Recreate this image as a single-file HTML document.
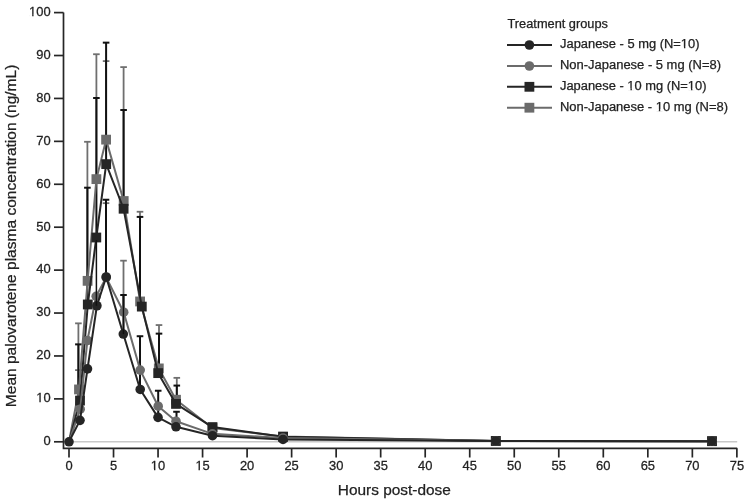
<!DOCTYPE html>
<html><head><meta charset="utf-8"><title>Mean palovarotene plasma concentration</title>
<style>
html,body{margin:0;padding:0;background:#fff;}
svg{display:block;}
text{font-family:"Liberation Sans",Arial,sans-serif;fill:#222222;stroke:#222222;stroke-width:0.25px;}
.tk{font-size:12.3px;}
.lg{font-size:12.3px;}
.ttl{font-size:14.8px;}
</style></head><body>
<svg width="749" height="504" viewBox="0 0 749 504">
<rect width="749" height="504" fill="#fff"/>
<line x1="63.50" y1="441.80" x2="737.20" y2="441.80" stroke="#c8c8c8" stroke-width="1.6"/>
<line x1="78.40" y1="409.18" x2="78.40" y2="370.12" stroke="#6f6f6f" stroke-width="1.8"/>
<line x1="75.10" y1="370.12" x2="81.70" y2="370.12" stroke="#6f6f6f" stroke-width="1.8"/>
<line x1="106.00" y1="277.42" x2="106.00" y2="203.16" stroke="#6f6f6f" stroke-width="1.8"/>
<line x1="102.70" y1="203.16" x2="109.30" y2="203.16" stroke="#6f6f6f" stroke-width="1.8"/>
<line x1="123.50" y1="312.18" x2="123.50" y2="260.68" stroke="#6f6f6f" stroke-width="1.8"/>
<line x1="120.20" y1="260.68" x2="126.80" y2="260.68" stroke="#6f6f6f" stroke-width="1.8"/>
<line x1="106.00" y1="276.99" x2="106.00" y2="199.73" stroke="#111111" stroke-width="2"/>
<line x1="102.70" y1="199.73" x2="109.30" y2="199.73" stroke="#111111" stroke-width="2"/>
<line x1="123.50" y1="334.07" x2="123.50" y2="295.01" stroke="#111111" stroke-width="2"/>
<line x1="120.20" y1="295.01" x2="126.80" y2="295.01" stroke="#111111" stroke-width="2"/>
<line x1="140.00" y1="389.44" x2="140.00" y2="336.22" stroke="#111111" stroke-width="2"/>
<line x1="136.70" y1="336.22" x2="143.30" y2="336.22" stroke="#111111" stroke-width="2"/>
<line x1="158.20" y1="417.34" x2="158.20" y2="390.73" stroke="#111111" stroke-width="2"/>
<line x1="154.90" y1="390.73" x2="161.50" y2="390.73" stroke="#111111" stroke-width="2"/>
<line x1="176.50" y1="427.64" x2="176.50" y2="411.76" stroke="#111111" stroke-width="2"/>
<line x1="173.20" y1="411.76" x2="179.80" y2="411.76" stroke="#111111" stroke-width="2"/>
<line x1="78.40" y1="389.44" x2="78.40" y2="323.34" stroke="#6f6f6f" stroke-width="1.8"/>
<line x1="75.10" y1="323.34" x2="81.70" y2="323.34" stroke="#6f6f6f" stroke-width="1.8"/>
<line x1="87.40" y1="280.85" x2="87.40" y2="141.79" stroke="#6f6f6f" stroke-width="1.8"/>
<line x1="84.10" y1="141.79" x2="90.70" y2="141.79" stroke="#6f6f6f" stroke-width="1.8"/>
<line x1="96.40" y1="179.13" x2="96.40" y2="54.23" stroke="#6f6f6f" stroke-width="1.8"/>
<line x1="93.10" y1="54.23" x2="99.70" y2="54.23" stroke="#6f6f6f" stroke-width="1.8"/>
<line x1="106.10" y1="139.64" x2="106.10" y2="61.10" stroke="#6f6f6f" stroke-width="1.8"/>
<line x1="102.80" y1="61.10" x2="109.40" y2="61.10" stroke="#6f6f6f" stroke-width="1.8"/>
<line x1="123.60" y1="200.16" x2="123.60" y2="67.11" stroke="#6f6f6f" stroke-width="1.8"/>
<line x1="120.30" y1="67.11" x2="126.90" y2="67.11" stroke="#6f6f6f" stroke-width="1.8"/>
<line x1="140.00" y1="301.45" x2="140.00" y2="211.75" stroke="#6f6f6f" stroke-width="1.8"/>
<line x1="136.70" y1="211.75" x2="143.30" y2="211.75" stroke="#6f6f6f" stroke-width="1.8"/>
<line x1="159.00" y1="368.41" x2="159.00" y2="325.06" stroke="#6f6f6f" stroke-width="1.8"/>
<line x1="155.70" y1="325.06" x2="162.30" y2="325.06" stroke="#6f6f6f" stroke-width="1.8"/>
<line x1="176.80" y1="398.02" x2="176.80" y2="377.85" stroke="#6f6f6f" stroke-width="1.8"/>
<line x1="173.50" y1="377.85" x2="180.10" y2="377.85" stroke="#6f6f6f" stroke-width="1.8"/>
<line x1="78.40" y1="400.60" x2="78.40" y2="344.37" stroke="#111111" stroke-width="2"/>
<line x1="75.10" y1="344.37" x2="81.70" y2="344.37" stroke="#111111" stroke-width="2"/>
<line x1="87.40" y1="304.46" x2="87.40" y2="187.71" stroke="#111111" stroke-width="2"/>
<line x1="84.10" y1="187.71" x2="90.70" y2="187.71" stroke="#111111" stroke-width="2"/>
<line x1="96.40" y1="237.50" x2="96.40" y2="98.01" stroke="#111111" stroke-width="2"/>
<line x1="93.10" y1="98.01" x2="99.70" y2="98.01" stroke="#111111" stroke-width="2"/>
<line x1="106.10" y1="164.11" x2="106.10" y2="42.64" stroke="#111111" stroke-width="2"/>
<line x1="102.80" y1="42.64" x2="109.40" y2="42.64" stroke="#111111" stroke-width="2"/>
<line x1="123.60" y1="208.74" x2="123.60" y2="110.03" stroke="#111111" stroke-width="2"/>
<line x1="120.30" y1="110.03" x2="126.90" y2="110.03" stroke="#111111" stroke-width="2"/>
<line x1="140.00" y1="306.60" x2="140.00" y2="216.90" stroke="#111111" stroke-width="2"/>
<line x1="136.70" y1="216.90" x2="143.30" y2="216.90" stroke="#111111" stroke-width="2"/>
<line x1="159.00" y1="372.27" x2="159.00" y2="333.64" stroke="#111111" stroke-width="2"/>
<line x1="155.70" y1="333.64" x2="162.30" y2="333.64" stroke="#111111" stroke-width="2"/>
<line x1="176.80" y1="402.74" x2="176.80" y2="385.57" stroke="#111111" stroke-width="2"/>
<line x1="173.50" y1="385.57" x2="180.10" y2="385.57" stroke="#111111" stroke-width="2"/>
<polyline points="69.00,441.80 79.00,389.44 87.60,280.85 96.40,179.13 106.10,139.64 123.70,201.02 140.10,301.45 158.80,368.41 176.00,399.74 212.40,428.07 283.00,436.44 495.80,440.94 712.00,441.16" fill="none" stroke="#6b6b6b" stroke-width="2" stroke-linejoin="round"/>
<rect x="74.10" y="384.54" width="9.8" height="9.8" fill="#6b6b6b"/>
<rect x="82.70" y="275.95" width="9.8" height="9.8" fill="#6b6b6b"/>
<rect x="91.50" y="174.23" width="9.8" height="9.8" fill="#6b6b6b"/>
<rect x="101.20" y="134.74" width="9.8" height="9.8" fill="#6b6b6b"/>
<rect x="118.80" y="196.12" width="9.8" height="9.8" fill="#6b6b6b"/>
<rect x="135.20" y="296.55" width="9.8" height="9.8" fill="#6b6b6b"/>
<rect x="153.90" y="363.51" width="9.8" height="9.8" fill="#6b6b6b"/>
<rect x="171.10" y="394.84" width="9.8" height="9.8" fill="#6b6b6b"/>
<rect x="207.50" y="423.17" width="9.8" height="9.8" fill="#6b6b6b"/>
<rect x="278.10" y="431.54" width="9.8" height="9.8" fill="#6b6b6b"/>
<rect x="490.90" y="436.04" width="9.8" height="9.8" fill="#6b6b6b"/>
<rect x="707.10" y="436.26" width="9.8" height="9.8" fill="#6b6b6b"/>
<polyline points="69.00,441.80 80.00,400.60 87.80,304.46 96.30,237.50 106.20,164.11 123.60,208.74 141.80,306.60 158.20,373.13 176.00,403.90 212.50,427.08 283.10,436.86 495.80,440.94 712.00,441.16" fill="none" stroke="#252525" stroke-width="2" stroke-linejoin="round"/>
<rect x="75.10" y="395.70" width="9.8" height="9.8" fill="#252525"/>
<rect x="82.90" y="299.56" width="9.8" height="9.8" fill="#252525"/>
<rect x="91.40" y="232.60" width="9.8" height="9.8" fill="#252525"/>
<rect x="101.30" y="159.21" width="9.8" height="9.8" fill="#252525"/>
<rect x="118.70" y="203.84" width="9.8" height="9.8" fill="#252525"/>
<rect x="136.90" y="301.70" width="9.8" height="9.8" fill="#252525"/>
<rect x="153.30" y="368.23" width="9.8" height="9.8" fill="#252525"/>
<rect x="171.10" y="399.00" width="9.8" height="9.8" fill="#252525"/>
<rect x="207.60" y="422.18" width="9.8" height="9.8" fill="#252525"/>
<rect x="278.20" y="431.96" width="9.8" height="9.8" fill="#252525"/>
<rect x="490.90" y="436.04" width="9.8" height="9.8" fill="#252525"/>
<rect x="707.10" y="436.26" width="9.8" height="9.8" fill="#252525"/>
<polyline points="69.00,441.80 80.20,409.18 87.40,340.51 96.20,296.30 106.20,277.42 123.70,312.18 140.20,370.12 158.20,406.18 176.00,421.20 212.40,433.86 283.00,437.94 495.80,440.94 712.00,441.16" fill="none" stroke="#6b6b6b" stroke-width="2" stroke-linejoin="round"/>
<circle cx="80.20" cy="409.18" r="4.8" fill="#6b6b6b"/>
<circle cx="87.40" cy="340.51" r="4.8" fill="#6b6b6b"/>
<circle cx="96.20" cy="296.30" r="4.8" fill="#6b6b6b"/>
<circle cx="106.20" cy="277.42" r="4.8" fill="#6b6b6b"/>
<circle cx="123.70" cy="312.18" r="4.8" fill="#6b6b6b"/>
<circle cx="140.20" cy="370.12" r="4.8" fill="#6b6b6b"/>
<circle cx="158.20" cy="406.18" r="4.8" fill="#6b6b6b"/>
<circle cx="176.00" cy="421.20" r="4.8" fill="#6b6b6b"/>
<circle cx="212.40" cy="433.86" r="4.8" fill="#6b6b6b"/>
<circle cx="283.00" cy="437.94" r="4.8" fill="#6b6b6b"/>
<circle cx="495.80" cy="440.94" r="4.8" fill="#6b6b6b"/>
<circle cx="712.00" cy="441.16" r="4.8" fill="#6b6b6b"/>
<polyline points="69.00,441.80 80.00,420.34 87.50,368.84 96.90,305.74 106.20,276.99 123.30,334.07 140.20,389.44 158.00,417.34 176.00,426.78 212.50,435.71 283.00,439.44 495.80,440.94 712.00,441.16" fill="none" stroke="#252525" stroke-width="2" stroke-linejoin="round"/>
<circle cx="69.00" cy="441.80" r="4.8" fill="#252525"/>
<circle cx="80.00" cy="420.34" r="4.8" fill="#252525"/>
<circle cx="87.50" cy="368.84" r="4.8" fill="#252525"/>
<circle cx="96.90" cy="305.74" r="4.8" fill="#252525"/>
<circle cx="106.20" cy="276.99" r="4.8" fill="#252525"/>
<circle cx="123.30" cy="334.07" r="4.8" fill="#252525"/>
<circle cx="140.20" cy="389.44" r="4.8" fill="#252525"/>
<circle cx="158.00" cy="417.34" r="4.8" fill="#252525"/>
<circle cx="176.00" cy="426.78" r="4.8" fill="#252525"/>
<circle cx="212.50" cy="435.71" r="4.8" fill="#252525"/>
<circle cx="283.00" cy="439.44" r="4.8" fill="#252525"/>
<circle cx="495.80" cy="440.94" r="4.8" fill="#252525"/>
<circle cx="712.00" cy="441.16" r="4.8" fill="#252525"/>
<line x1="96.40" y1="305.74" x2="96.40" y2="240.08" stroke="#111111" stroke-width="1.5"/>
<line x1="123.45" y1="334.07" x2="123.45" y2="295.01" stroke="#111111" stroke-width="1.4"/>
<path d="M63.5,12.6 V448.3 H737.2" fill="none" stroke="#262626" stroke-width="1.7"/>
<line x1="54" y1="441.80" x2="63.5" y2="441.80" stroke="#262626" stroke-width="1.7"/>
<text transform="translate(50.6,445.10) scale(1.05,1)" text-anchor="end" class="tk">0</text>
<line x1="54" y1="398.88" x2="63.5" y2="398.88" stroke="#262626" stroke-width="1.7"/>
<text transform="translate(50.6,402.18) scale(1.05,1)" text-anchor="end" class="tk">10</text>
<line x1="54" y1="355.96" x2="63.5" y2="355.96" stroke="#262626" stroke-width="1.7"/>
<text transform="translate(50.6,359.26) scale(1.05,1)" text-anchor="end" class="tk">20</text>
<line x1="54" y1="313.04" x2="63.5" y2="313.04" stroke="#262626" stroke-width="1.7"/>
<text transform="translate(50.6,316.34) scale(1.05,1)" text-anchor="end" class="tk">30</text>
<line x1="54" y1="270.12" x2="63.5" y2="270.12" stroke="#262626" stroke-width="1.7"/>
<text transform="translate(50.6,273.42) scale(1.05,1)" text-anchor="end" class="tk">40</text>
<line x1="54" y1="227.20" x2="63.5" y2="227.20" stroke="#262626" stroke-width="1.7"/>
<text transform="translate(50.6,230.50) scale(1.05,1)" text-anchor="end" class="tk">50</text>
<line x1="54" y1="184.28" x2="63.5" y2="184.28" stroke="#262626" stroke-width="1.7"/>
<text transform="translate(50.6,187.58) scale(1.05,1)" text-anchor="end" class="tk">60</text>
<line x1="54" y1="141.36" x2="63.5" y2="141.36" stroke="#262626" stroke-width="1.7"/>
<text transform="translate(50.6,144.66) scale(1.05,1)" text-anchor="end" class="tk">70</text>
<line x1="54" y1="98.44" x2="63.5" y2="98.44" stroke="#262626" stroke-width="1.7"/>
<text transform="translate(50.6,101.74) scale(1.05,1)" text-anchor="end" class="tk">80</text>
<line x1="54" y1="55.52" x2="63.5" y2="55.52" stroke="#262626" stroke-width="1.7"/>
<text transform="translate(50.6,58.82) scale(1.05,1)" text-anchor="end" class="tk">90</text>
<line x1="54" y1="12.60" x2="63.5" y2="12.60" stroke="#262626" stroke-width="1.7"/>
<text transform="translate(50.6,15.90) scale(1.05,1)" text-anchor="end" class="tk">100</text>
<line x1="69.00" y1="448.3" x2="69.00" y2="457.5" stroke="#262626" stroke-width="1.7"/>
<text transform="translate(69.00,470.2) scale(1.05,1)" text-anchor="middle" class="tk">0</text>
<line x1="113.53" y1="448.3" x2="113.53" y2="457.5" stroke="#262626" stroke-width="1.7"/>
<text transform="translate(113.53,470.2) scale(1.05,1)" text-anchor="middle" class="tk">5</text>
<line x1="158.05" y1="448.3" x2="158.05" y2="457.5" stroke="#262626" stroke-width="1.7"/>
<text transform="translate(158.05,470.2) scale(1.05,1)" text-anchor="middle" class="tk">10</text>
<line x1="202.57" y1="448.3" x2="202.57" y2="457.5" stroke="#262626" stroke-width="1.7"/>
<text transform="translate(202.57,470.2) scale(1.05,1)" text-anchor="middle" class="tk">15</text>
<line x1="247.10" y1="448.3" x2="247.10" y2="457.5" stroke="#262626" stroke-width="1.7"/>
<text transform="translate(247.10,470.2) scale(1.05,1)" text-anchor="middle" class="tk">20</text>
<line x1="291.62" y1="448.3" x2="291.62" y2="457.5" stroke="#262626" stroke-width="1.7"/>
<text transform="translate(291.62,470.2) scale(1.05,1)" text-anchor="middle" class="tk">25</text>
<line x1="336.15" y1="448.3" x2="336.15" y2="457.5" stroke="#262626" stroke-width="1.7"/>
<text transform="translate(336.15,470.2) scale(1.05,1)" text-anchor="middle" class="tk">30</text>
<line x1="380.67" y1="448.3" x2="380.67" y2="457.5" stroke="#262626" stroke-width="1.7"/>
<text transform="translate(380.67,470.2) scale(1.05,1)" text-anchor="middle" class="tk">35</text>
<line x1="425.20" y1="448.3" x2="425.20" y2="457.5" stroke="#262626" stroke-width="1.7"/>
<text transform="translate(425.20,470.2) scale(1.05,1)" text-anchor="middle" class="tk">40</text>
<line x1="469.72" y1="448.3" x2="469.72" y2="457.5" stroke="#262626" stroke-width="1.7"/>
<text transform="translate(469.72,470.2) scale(1.05,1)" text-anchor="middle" class="tk">45</text>
<line x1="514.25" y1="448.3" x2="514.25" y2="457.5" stroke="#262626" stroke-width="1.7"/>
<text transform="translate(514.25,470.2) scale(1.05,1)" text-anchor="middle" class="tk">50</text>
<line x1="558.77" y1="448.3" x2="558.77" y2="457.5" stroke="#262626" stroke-width="1.7"/>
<text transform="translate(558.77,470.2) scale(1.05,1)" text-anchor="middle" class="tk">55</text>
<line x1="603.30" y1="448.3" x2="603.30" y2="457.5" stroke="#262626" stroke-width="1.7"/>
<text transform="translate(603.30,470.2) scale(1.05,1)" text-anchor="middle" class="tk">60</text>
<line x1="647.82" y1="448.3" x2="647.82" y2="457.5" stroke="#262626" stroke-width="1.7"/>
<text transform="translate(647.82,470.2) scale(1.05,1)" text-anchor="middle" class="tk">65</text>
<line x1="692.35" y1="448.3" x2="692.35" y2="457.5" stroke="#262626" stroke-width="1.7"/>
<text transform="translate(692.35,470.2) scale(1.05,1)" text-anchor="middle" class="tk">70</text>
<line x1="736.88" y1="448.3" x2="736.88" y2="457.5" stroke="#262626" stroke-width="1.7"/>
<text transform="translate(736.88,470.2) scale(1.05,1)" text-anchor="middle" class="tk">75</text>
<text x="507.5" y="27.8" class="lg" textLength="100.5" lengthAdjust="spacingAndGlyphs">Treatment groups</text>
<line x1="507" y1="45.0" x2="552" y2="45.0" stroke="#252525" stroke-width="2"/>
<circle cx="529.4" cy="45.0" r="4.8" fill="#252525"/>
<text x="560" y="47.9" class="lg" textLength="139.5" lengthAdjust="spacingAndGlyphs">Japanese - 5 mg (N=10)</text>
<line x1="507" y1="66.0" x2="552" y2="66.0" stroke="#6b6b6b" stroke-width="2"/>
<circle cx="529.4" cy="66.0" r="4.8" fill="#6b6b6b"/>
<text x="560" y="68.9" class="lg" textLength="161.0" lengthAdjust="spacingAndGlyphs">Non-Japanese - 5 mg (N=8)</text>
<line x1="507" y1="86.8" x2="552" y2="86.8" stroke="#252525" stroke-width="2"/>
<rect x="524.5" y="81.9" width="9.8" height="9.8" fill="#252525"/>
<text x="560" y="89.7" class="lg" textLength="146.5" lengthAdjust="spacingAndGlyphs">Japanese - 10 mg (N=10)</text>
<line x1="507" y1="107.7" x2="552" y2="107.7" stroke="#6b6b6b" stroke-width="2"/>
<rect x="524.5" y="102.8" width="9.8" height="9.8" fill="#6b6b6b"/>
<text x="560" y="110.6" class="lg" textLength="168.0" lengthAdjust="spacingAndGlyphs">Non-Japanese - 10 mg (N=8)</text>
<text class="ttl" x="394.3" y="494.8" text-anchor="middle" textLength="113" lengthAdjust="spacingAndGlyphs">Hours post-dose</text>
<rect x="36.41" y="400.98" width="2.95" height="2.3" fill="#fff"/>
<rect x="40.74" y="400.98" width="2.74" height="2.3" fill="#fff"/>
<rect x="29.23" y="14.70" width="2.95" height="2.3" fill="#fff"/>
<rect x="33.56" y="14.70" width="2.74" height="2.3" fill="#fff"/>
<rect x="151.05" y="469.00" width="2.95" height="2.3" fill="#fff"/>
<rect x="155.38" y="469.00" width="2.74" height="2.3" fill="#fff"/>
<rect x="195.57" y="469.00" width="2.95" height="2.3" fill="#fff"/>
<rect x="199.90" y="469.00" width="2.74" height="2.3" fill="#fff"/>
<rect x="681.01" y="46.70" width="2.95" height="2.3" fill="#fff"/>
<rect x="685.34" y="46.70" width="2.75" height="2.3" fill="#fff"/>
<rect x="627.52" y="88.50" width="2.95" height="2.3" fill="#fff"/>
<rect x="631.85" y="88.50" width="2.75" height="2.3" fill="#fff"/>
<rect x="688.05" y="88.50" width="2.95" height="2.3" fill="#fff"/>
<rect x="692.38" y="88.50" width="2.75" height="2.3" fill="#fff"/>
<rect x="655.87" y="109.40" width="2.96" height="2.3" fill="#fff"/>
<rect x="660.22" y="109.40" width="2.76" height="2.3" fill="#fff"/>
<text class="ttl" transform="translate(15.9,235.9) rotate(-90)" x="0" y="0" text-anchor="middle" textLength="342.5" lengthAdjust="spacingAndGlyphs">Mean palovarotene plasma concentration (ng/mL)</text>
</svg>
</body></html>
